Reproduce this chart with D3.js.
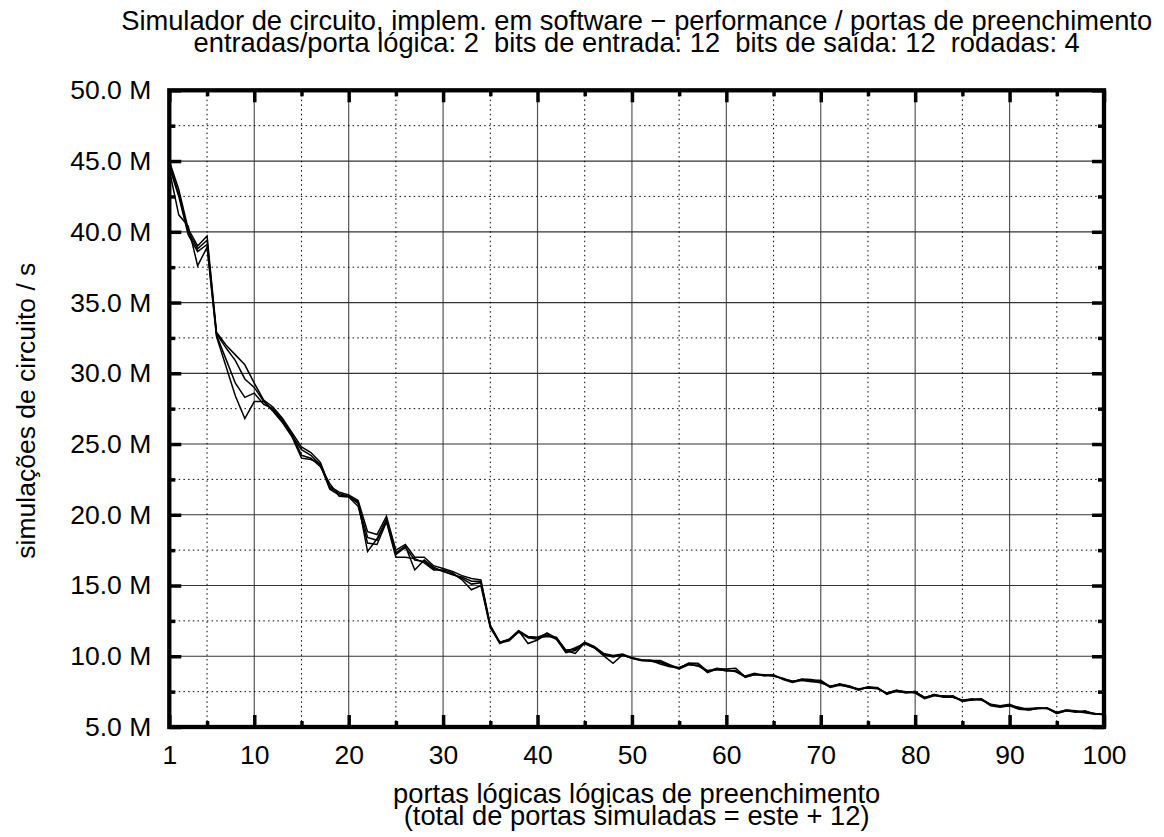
<!DOCTYPE html>
<html>
<head>
<meta charset="utf-8">
<script src="https://cdn.jsdelivr.net/npm/d3@7"></script>
<style>
  body { margin: 0; background: #fff; }
  svg { display: block; font-family: "Liberation Sans", Arial, sans-serif; }
  .tick text { font-size: 26.5px; fill: #000; }
</style>
</head>
<body>
<svg id="chart" width="1164" height="837"></svg>
<script>
// portas de preenchimento (eixo x)
const portas = d3.range(1, 101);

// simulações / s em milhões, uma série por rodada
const rodada1 = [45.0, 43.0, 40.2, 39.0, 39.7, 32.9, 32.0, 31.3, 30.6, 29.3,
  28.1, 27.6, 26.8, 25.8, 24.8, 24.4, 23.7, 22.0, 21.6, 21.4,
  21.0, 18.8, 18.6, 19.9, 17.5, 17.9, 17.0, 17.0, 16.4, 16.2,
  16.0, 15.7, 15.5, 15.4, 12.2, 11.0, 11.2, 11.8, 11.4, 11.35,
  11.6, 11.3, 10.45, 10.5, 11.0, 10.7, 10.2, 10.05, 10.15, 9.9,
  9.75, 9.7, 9.7, 9.4, 9.15, 9.5, 9.5, 8.95, 9.15, 9.05,
  8.9, 8.55, 8.75, 8.7, 8.6, 8.45, 8.2, 8.35, 8.3, 8.3,
  7.85, 8.0, 7.9, 7.65, 7.85, 7.75, 7.35, 7.6, 7.45, 7.5,
  7.05, 7.3, 7.15, 7.2, 6.85, 6.95, 7.0, 6.6, 6.5, 6.6,
  6.35, 6.25, 6.35, 6.35, 6.05, 6.2, 6.1, 6.1, 5.95, 5.9];
const rodada2 = [44.8, 42.7, 40.0, 38.8, 39.4, 32.8, 31.8, 30.9, 29.6, 29.0,
  28.0, 27.4, 26.6, 25.6, 24.6, 24.2, 23.5, 21.8, 21.4, 21.3,
  20.8, 18.4, 18.2, 19.6, 17.2, 17.7, 16.8, 16.7, 16.2, 16.0,
  15.8, 15.5, 15.1, 15.2, 12.1, 10.95, 11.1, 11.75, 11.3, 11.2,
  11.5, 11.2, 10.3, 10.6, 10.9, 10.6, 10.1, 9.95, 10.1, 9.85,
  9.7, 9.65, 9.55, 9.3, 9.1, 9.4, 9.35, 8.9, 9.1, 8.95,
  9.0, 8.5, 8.7, 8.65, 8.7, 8.35, 8.15, 8.3, 8.2, 8.2,
  7.8, 7.95, 7.85, 7.6, 7.8, 7.8, 7.3, 7.55, 7.4, 7.45,
  7.1, 7.25, 7.1, 7.1, 6.9, 6.9, 6.95, 6.5, 6.4, 6.5,
  6.25, 6.2, 6.3, 6.3, 5.95, 6.15, 6.1, 6.0, 5.9, 5.9];
const rodada3 = [44.6, 42.5, 39.8, 38.6, 39.1, 32.7, 31.0, 29.3, 28.3, 28.6,
  27.8, 27.5, 26.7, 25.7, 24.2, 24.0, 23.4, 22.2, 21.3, 21.25,
  20.6, 18.0, 17.9, 19.5, 17.0, 17.0, 16.9, 16.6, 16.1, 16.1,
  15.9, 15.4, 14.7, 15.0, 12.0, 11.0, 11.15, 11.7, 11.35, 11.3,
  11.4, 11.35, 10.4, 10.2, 10.95, 10.65, 10.15, 10.0, 10.05, 9.9,
  9.72, 9.7, 9.45, 9.25, 9.2, 9.45, 9.3, 9.0, 9.05, 9.0,
  8.95, 8.6, 8.8, 8.6, 8.65, 8.4, 8.25, 8.3, 8.25, 8.1,
  7.9, 8.0, 7.8, 7.7, 7.75, 7.7, 7.4, 7.6, 7.5, 7.4,
  7.0, 7.2, 7.2, 7.15, 6.8, 6.9, 6.98, 6.55, 6.45, 6.55,
  6.3, 6.3, 6.35, 6.3, 6.0, 6.2, 6.15, 6.05, 5.95, 5.85];
const rodada4 = [44.4, 41.2, 40.4, 37.6, 38.9, 32.6, 30.5, 28.4, 26.8, 28.0,
  28.0, 27.3, 26.5, 25.5, 24.0, 23.9, 23.6, 21.9, 21.5, 21.3,
  20.9, 17.4, 18.3, 19.7, 17.3, 17.8, 16.1, 16.8, 16.3, 16.0,
  15.75, 15.6, 15.3, 15.3, 12.1, 10.9, 11.2, 11.8, 10.9, 11.15,
  11.65, 11.25, 10.25, 10.4, 10.9, 10.6, 10.05, 9.5, 10.1, 9.85,
  9.7, 9.72, 9.6, 9.35, 9.15, 9.5, 9.45, 8.85, 9.1, 9.1,
  9.15, 8.55, 8.7, 8.7, 8.6, 8.4, 8.2, 8.4, 8.35, 8.2,
  7.85, 8.05, 7.9, 7.65, 7.8, 7.75, 7.35, 7.5, 7.45, 7.5,
  7.05, 7.3, 7.15, 7.1, 6.9, 7.0, 6.9, 6.6, 6.45, 6.5,
  6.4, 6.2, 6.3, 6.35, 5.95, 6.15, 6.05, 6.15, 5.9, 5.9];
const rodadas = [rodada1, rodada2, rodada3, rodada4];

// ticks
const xMajor = [1, 10, 20, 30, 40, 50, 60, 70, 80, 90, 100];
const xMinor = [5, 15, 25, 35, 45, 55, 65, 75, 85, 95];
const yMajor = [5, 10, 15, 20, 25, 30, 35, 40, 45, 50];
const yMinor = [7.5, 12.5, 17.5, 22.5, 27.5, 32.5, 37.5, 42.5, 47.5];

const titulo = [
  "Simulador de circuito, implem. em software \u2212 performance / portas de preenchimento",
  "entradas/porta lógica: 2  bits de entrada: 12  bits de saída: 12  rodadas: 4"
];
const rotuloX = ["portas lógicas lógicas de preenchimento", "(total de portas simuladas = este + 12)"];
const rotuloY = "simulações de circuito / s";

(function() {
  const svg = d3.select("#chart");
  const plotL = 169.3, plotR = 1104, plotT = 90.3, plotB = 727;

  const x = d3.scaleLinear().domain([1, 100]).range([plotL, plotR]);
  const y = d3.scaleLinear().domain([5, 50]).range([plotB, plotT]);

  // grid
  const grid = svg.append("g");
  grid.selectAll(".gx").data(xMajor.filter(d => d > 1 && d < 100)).join("line")
    .attr("class", "gx")
    .attr("x1", d => x(d)).attr("x2", d => x(d)).attr("y1", plotT).attr("y2", plotB)
    .attr("stroke", "#555").attr("stroke-width", 1.2);
  grid.selectAll(".gy").data(yMajor.filter(d => d > 5 && d < 50)).join("line")
    .attr("class", "gy")
    .attr("x1", plotL).attr("x2", plotR).attr("y1", d => y(d)).attr("y2", d => y(d))
    .attr("stroke", "#333").attr("stroke-width", 1.2);
  grid.selectAll(".mx").data(xMinor).join("line")
    .attr("class", "mx")
    .attr("x1", d => x(d)).attr("x2", d => x(d)).attr("y1", plotT).attr("y2", plotB)
    .attr("stroke", "#000").attr("stroke-width", 1).attr("stroke-dasharray", "1.5,3.2");
  grid.selectAll(".my").data(yMinor).join("line")
    .attr("class", "my")
    .attr("x1", plotL).attr("x2", plotR).attr("y1", d => y(d)).attr("y2", d => y(d))
    .attr("stroke", "#000").attr("stroke-width", 1).attr("stroke-dasharray", "1.5,3.2");

  // series
  const line = d3.line().x((d, i) => x(portas[i])).y(d => y(d));
  svg.append("g").selectAll("path").data(rodadas).join("path")
    .attr("d", line)
    .attr("fill", "none")
    .attr("stroke", "#000")
    .attr("stroke-width", 1.5)
    .attr("stroke-linejoin", "miter");

  // axes
  function styleAxis(g) {
    g.select(".domain").remove();
    g.selectAll(".tick line").attr("stroke", "#000").attr("stroke-width", 3.5);
    g.selectAll(".tick text").attr("font-family", null).attr("font-size", null);
  }
  const fmtY = d => d.toFixed(1) + " M";

  svg.append("g").attr("transform", `translate(0,${plotB})`)
    .call(d3.axisBottom(x).tickValues(xMajor).tickSize(-12).tickPadding(18.5).tickFormat(d3.format("d")))
    .call(styleAxis);
  svg.append("g").attr("transform", `translate(0,${plotB})`)
    .call(d3.axisBottom(x).tickValues(xMinor).tickSize(-6).tickFormat(""))
    .call(styleAxis);
  svg.append("g").attr("transform", `translate(0,${plotT})`)
    .call(d3.axisTop(x).tickValues(xMajor).tickSize(-12).tickFormat(""))
    .call(styleAxis);
  svg.append("g").attr("transform", `translate(0,${plotT})`)
    .call(d3.axisTop(x).tickValues(xMinor).tickSize(-6).tickFormat(""))
    .call(styleAxis);

  svg.append("g").attr("transform", `translate(${plotL},0)`)
    .call(d3.axisLeft(y).tickValues(yMajor).tickSize(-12).tickPadding(18).tickFormat(fmtY))
    .call(styleAxis);
  svg.append("g").attr("transform", `translate(${plotL},0)`)
    .call(d3.axisLeft(y).tickValues(yMinor).tickSize(-6).tickFormat(""))
    .call(styleAxis);
  svg.append("g").attr("transform", `translate(${plotR},0)`)
    .call(d3.axisRight(y).tickValues(yMajor).tickSize(-12).tickFormat(""))
    .call(styleAxis);
  svg.append("g").attr("transform", `translate(${plotR},0)`)
    .call(d3.axisRight(y).tickValues(yMinor).tickSize(-6).tickFormat(""))
    .call(styleAxis);

  // border
  svg.append("rect")
    .attr("x", plotL).attr("y", plotT)
    .attr("width", plotR - plotL).attr("height", plotB - plotT)
    .attr("fill", "none").attr("stroke", "#000").attr("stroke-width", 4.3);

  // texts
  const cx = (plotL + plotR) / 2;
  svg.append("g").selectAll("text").data(titulo).join("text")
    .attr("x", cx).attr("y", (d, i) => 29.5 + i * 22.6)
    .attr("text-anchor", "middle").attr("font-size", 27.3)
    .style("white-space", "pre")
    .text(d => d);

  svg.append("g").selectAll("text").data(rotuloX).join("text")
    .attr("x", cx).attr("y", (d, i) => 803 + i * 22)
    .attr("text-anchor", "middle").attr("font-size", 27.3)
    .text(d => d);

  svg.append("text")
    .attr("transform", `translate(35,${(plotT + plotB) / 2 + 2}) rotate(-90)`)
    .attr("text-anchor", "middle").attr("font-size", 26.5)
    .text(rotuloY);
})();
</script>
</body>
</html>
